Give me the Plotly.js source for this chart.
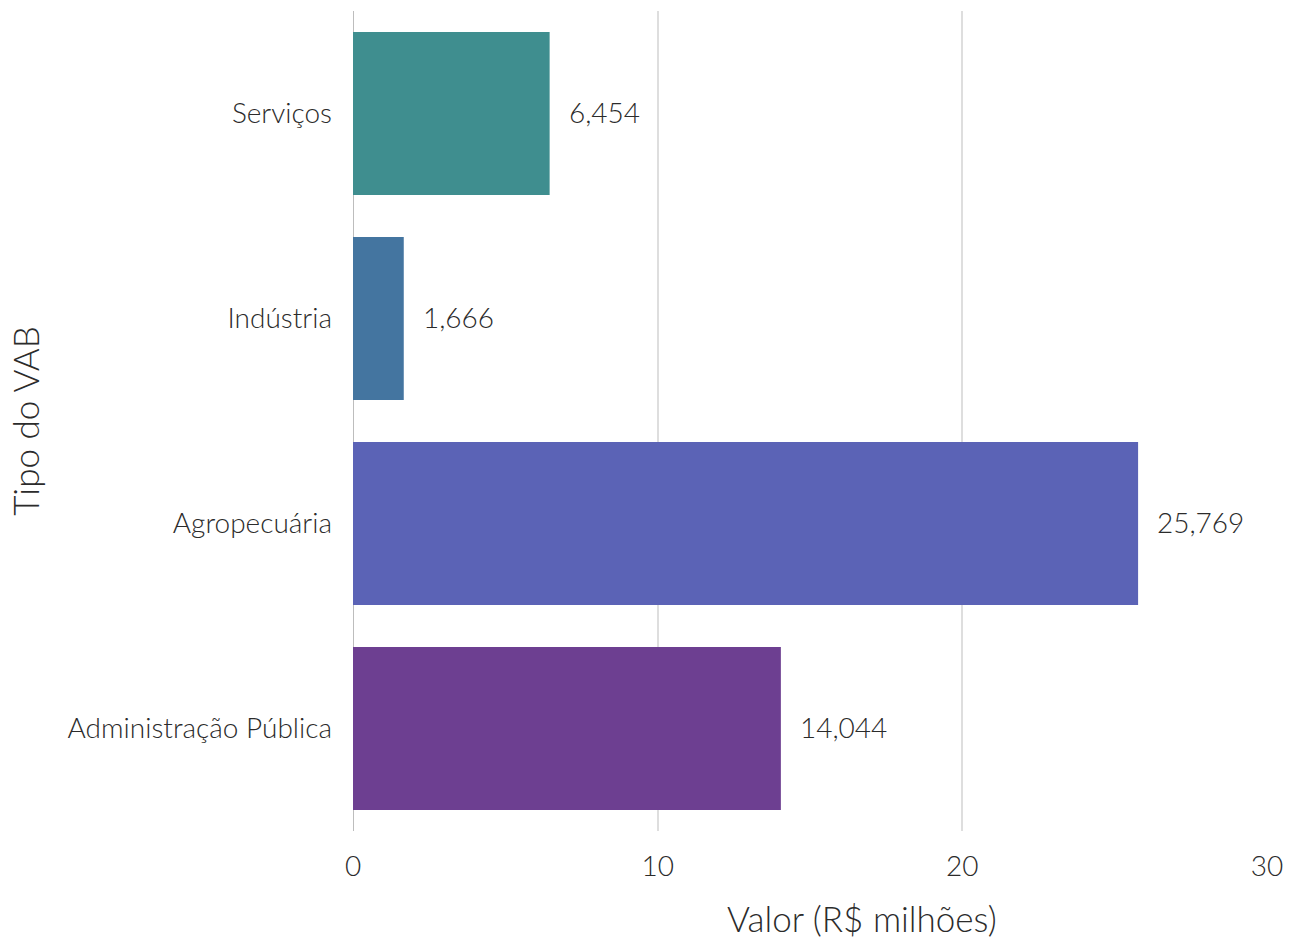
<!DOCTYPE html>
<html>
<head>
<meta charset="utf-8">
<script src="https://cdn.plot.ly/plotly-3.0.1.min.js"></script>
<style>html,body{margin:0;padding:0;background:#fff;}#chart{width:1294px;height:941px;}</style>
</head>
<body>
<div id="chart"></div>
<script>
const categories = ["Serviços", "Indústria", "Agropecuária", "Administração Pública"];
const values = [6.454, 1.666, 25.769, 14.044];
const valueLabels = ["6,454", "1,666", "25,769", "14,044"];
const colors = ["#3f8e8f", "#4475a0", "#5b63b6", "#6d3f91"];
const xTicks = [0, 10, 20, 30];

const fontFam = "'Lato Light', Lato, 'Open Sans', sans-serif";
const txt = "#2b2b2b";

const trace = {
  type: "bar",
  orientation: "h",
  x: values,
  y: categories,
  marker: {color: colors, line: {width: 0}},
  hoverinfo: "none",
  showlegend: false
};

const annotations = categories.map((c, i) => ({
  x: values[i], y: c, xref: "x", yref: "y",
  text: valueLabels[i], showarrow: false,
  xanchor: "left", yanchor: "middle", xshift: 17, yshift: 2,
  font: {family: fontFam, size: 28, color: txt, weight: 300}
}));
annotations.push({
  x: 0.557, y: -0.1062, xref: "paper", yref: "paper",
  text: "Valor (R$ milhões)", showarrow: false,
  xanchor: "center", yanchor: "middle",
  font: {family: fontFam, size: 35, color: txt, weight: 300}
});
annotations.push({
  x: -0.3590, y: 0.5, xref: "paper", yref: "paper",
  text: "Tipo do VAB", showarrow: false, textangle: -90,
  xanchor: "center", yanchor: "middle",
  font: {family: fontFam, size: 35, color: txt, weight: 300}
});

const layout = {
  width: 1294, height: 941,
  margin: {l: 353, r: 27, t: 11, b: 110},
  paper_bgcolor: "#fff", plot_bgcolor: "#fff",
  bargap: 0.204,
  font: {family: fontFam, color: txt, weight: 300},
  xaxis: {
    range: [0, 30],
    tickvals: xTicks,
    ticktext: xTicks.map(String),
    showgrid: true, gridcolor: "#dedede", gridwidth: 2,
    zeroline: false,
    showline: false,
    ticks: "",
    ticklabelstandoff: 16,
    tickfont: {family: fontFam, size: 28, color: txt, weight: 300},
    fixedrange: true
  },
  yaxis: {
    type: "category",
    categoryorder: "array", categoryarray: categories,
    range: [3.5, -0.5],
    showgrid: false, zeroline: false,
    showline: false,
    ticks: "",
    ticklabelstandoff: 20,
    tickfont: {family: fontFam, size: 28, color: txt, weight: 300},
    fixedrange: true
  },
  shapes: [{
    type: "line", xref: "x", yref: "paper", x0: 0, x1: 0, y0: 0, y1: 1,
    line: {color: "#bdbdbd", width: 2}, layer: "below"
  }],
  annotations: annotations
};

Plotly.newPlot("chart", [trace], layout, {displayModeBar: false, staticPlot: true});
</script>
</body>
</html>
